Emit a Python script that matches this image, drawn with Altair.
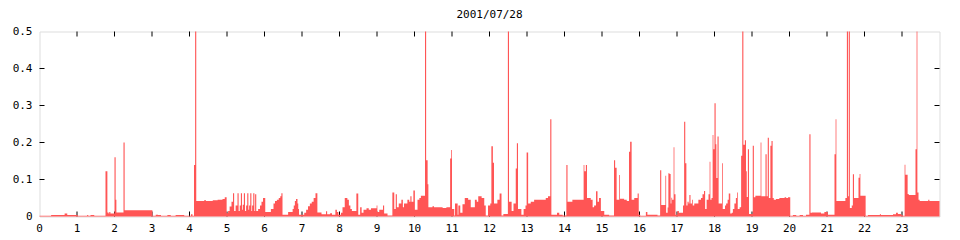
import altair as alt
import pandas as pd

TITLE = "2001/07/28"
RED = "#ff5555"

# step data: start hour of each step and its value (holds until the next start)
hour_start = [
    0.00, 0.31, 0.67, 0.74, 1.02, 1.27, 1.30, 1.36, 1.46, 1.76, 1.81, 1.84, 1.86, 1.89,
    2.00, 2.03, 2.05, 2.24, 2.27, 3.01, 3.10, 3.16, 3.24, 3.41, 3.50, 3.63, 3.86, 4.04,
    4.08, 4.12, 4.15, 4.18, 4.39, 4.44, 4.62, 4.75, 4.88, 4.94, 4.99, 5.03, 5.07, 5.12,
    5.16, 5.19, 5.23, 5.28, 5.31, 5.34, 5.37, 5.40, 5.42, 5.45, 5.48, 5.51, 5.54, 5.57,
    5.59, 5.62, 5.65, 5.67, 5.70, 5.73, 5.75, 5.78, 5.83, 5.88, 5.92, 5.96, 6.02, 6.17,
    6.24, 6.28, 6.33, 6.38, 6.42, 6.45, 6.48, 6.63, 6.75, 6.78, 6.81, 6.84, 6.88, 6.90,
    6.92, 7.06, 7.11, 7.16, 7.21, 7.26, 7.31, 7.36, 7.41, 7.52, 7.64, 7.67, 7.75, 7.80,
    7.89, 7.93, 7.97, 8.04, 8.08, 8.14, 8.21, 8.25, 8.29, 8.33, 8.45, 8.50, 8.55, 8.59,
    8.64, 8.72, 8.78, 8.84, 8.99, 9.01, 9.06, 9.16, 9.19, 9.28, 9.41, 9.46, 9.50, 9.53,
    9.58, 9.65, 9.69, 9.72, 9.81, 9.86, 9.89, 9.92, 9.97, 10.01, 10.08, 10.13, 10.17, 10.28,
    10.31, 10.35, 10.37, 10.48, 10.52, 10.75, 10.85, 10.95, 10.98, 11.00, 11.06, 11.08, 11.15, 11.17,
    11.22, 11.28, 11.34, 11.43, 11.50, 11.61, 11.66, 11.70, 11.79, 11.86, 11.90, 11.96, 12.02, 12.05,
    12.09, 12.12, 12.21, 12.27, 12.32, 12.37, 12.49, 12.52, 12.59, 12.64, 12.70, 12.73, 12.76, 12.85,
    12.91, 12.96, 12.99, 13.03, 13.10, 13.19, 13.50, 13.56, 13.62, 13.65, 13.80, 13.86, 13.95, 14.05,
    14.08, 14.21, 14.51, 14.53, 14.57, 14.60, 14.70, 14.75, 14.79, 14.84, 14.88, 14.92, 14.97, 15.06,
    15.19, 15.32, 15.35, 15.39, 15.46, 15.48, 15.59, 15.66, 15.72, 15.75, 15.79, 15.86, 15.95, 15.98,
    16.02, 16.17, 16.21, 16.48, 16.55, 16.58, 16.69, 16.71, 16.75, 16.77, 16.80, 16.83, 16.85, 16.87,
    16.91, 16.93, 16.96, 17.01, 17.05, 17.16, 17.19, 17.22, 17.25, 17.28, 17.31, 17.33, 17.36, 17.40,
    17.42, 17.46, 17.57, 17.64, 17.68, 17.72, 17.75, 17.79, 17.84, 17.87, 17.89, 17.92, 17.95, 17.97,
    18.00, 18.03, 18.05, 18.08, 18.11, 18.20, 18.22, 18.28, 18.31, 18.35, 18.38, 18.42, 18.46, 18.49,
    18.53, 18.57, 18.60, 18.62, 18.67, 18.71, 18.74, 18.77, 18.81, 18.84, 18.86, 18.89, 18.92, 19.02,
    19.05, 19.09, 19.23, 19.25, 19.36, 19.39, 19.42, 19.45, 19.49, 19.52, 19.55, 19.58, 19.64, 19.73,
    19.87, 19.91, 19.96, 20.02, 20.09, 20.18, 20.27, 20.36, 20.44, 20.53, 20.56, 20.60, 20.84, 20.93,
    21.02, 21.20, 21.23, 21.25, 21.49, 21.53, 21.56, 21.58, 21.61, 21.66, 21.69, 21.72, 21.84, 21.87,
    21.89, 22.03, 22.09, 22.41, 22.44, 22.76, 22.84, 22.89, 22.98, 23.02, 23.07, 23.09, 23.15, 23.18,
    23.36, 23.39, 23.41, 23.44, 23.47, 23.70, 23.73,
]

step_value = [
    0.002, 0.004, 0.008, 0.004, 0.002, 0.004, 0.002, 0.004, 0.002, 0.122, 0.011, 0.008, 0.012, 0.008,
    0.160, 0.045, 0.011, 0.200, 0.017, 0.002, 0.005, 0.004, 0.002, 0.004, 0.002, 0.004, 0.002, 0.006,
    0.002, 0.139, 0.500, 0.042, 0.044, 0.042, 0.044, 0.045, 0.047, 0.052, 0.009, 0.015, 0.027, 0.040,
    0.063, 0.015, 0.030, 0.063, 0.015, 0.030, 0.063, 0.018, 0.032, 0.063, 0.015, 0.030, 0.063, 0.018,
    0.030, 0.063, 0.015, 0.030, 0.063, 0.015, 0.060, 0.015, 0.020, 0.030, 0.040, 0.050, 0.012, 0.020,
    0.035, 0.042, 0.045, 0.050, 0.055, 0.063, 0.005, 0.012, 0.020, 0.030, 0.042, 0.047, 0.035, 0.020,
    0.005, 0.010, 0.018, 0.028, 0.035, 0.040, 0.050, 0.063, 0.011, 0.006, 0.014, 0.006, 0.009, 0.005,
    0.018, 0.012, 0.005, 0.010, 0.025, 0.050, 0.045, 0.030, 0.020, 0.015, 0.062, 0.005, 0.025, 0.010,
    0.018, 0.022, 0.018, 0.022, 0.030, 0.012, 0.018, 0.030, 0.008, 0.003, 0.065, 0.020, 0.060, 0.025,
    0.035, 0.045, 0.025, 0.035, 0.045, 0.040, 0.055, 0.040, 0.070, 0.018, 0.045, 0.050, 0.056, 0.500,
    0.152, 0.087, 0.025, 0.028, 0.025, 0.023, 0.025, 0.157, 0.180, 0.020, 0.003, 0.035, 0.005, 0.030,
    0.010, 0.033, 0.050, 0.045, 0.025, 0.045, 0.040, 0.055, 0.050, 0.030, 0.003, 0.030, 0.035, 0.190,
    0.145, 0.035, 0.045, 0.062, 0.003, 0.007, 0.500, 0.040, 0.015, 0.035, 0.130, 0.198, 0.020, 0.005,
    0.020, 0.030, 0.173, 0.035, 0.040, 0.045, 0.050, 0.055, 0.263, 0.005, 0.010, 0.005, 0.003, 0.139,
    0.040, 0.045, 0.139, 0.122, 0.139, 0.050, 0.045, 0.025, 0.030, 0.068, 0.040, 0.050, 0.015, 0.005,
    0.003, 0.152, 0.132, 0.045, 0.112, 0.048, 0.045, 0.042, 0.175, 0.202, 0.045, 0.050, 0.062, 0.005,
    0.002, 0.012, 0.005, 0.003, 0.125, 0.031, 0.110, 0.010, 0.024, 0.117, 0.115, 0.035, 0.051, 0.045,
    0.187, 0.060, 0.005, 0.015, 0.010, 0.030, 0.256, 0.144, 0.030, 0.040, 0.035, 0.058, 0.035, 0.045,
    0.030, 0.035, 0.045, 0.050, 0.060, 0.069, 0.020, 0.045, 0.060, 0.148, 0.045, 0.050, 0.220, 0.182,
    0.306, 0.195, 0.104, 0.216, 0.035, 0.144, 0.020, 0.030, 0.035, 0.045, 0.062, 0.008, 0.010, 0.020,
    0.035, 0.050, 0.065, 0.020, 0.025, 0.164, 0.500, 0.194, 0.206, 0.122, 0.053, 0.182, 0.007, 0.191,
    0.052, 0.056, 0.200, 0.055, 0.168, 0.055, 0.213, 0.050, 0.191, 0.204, 0.050, 0.045, 0.047, 0.050,
    0.052, 0.050, 0.052, 0.002, 0.004, 0.002, 0.004, 0.002, 0.005, 0.222, 0.010, 0.011, 0.008, 0.012,
    0.005, 0.168, 0.263, 0.042, 0.050, 0.500, 0.055, 0.500, 0.023, 0.030, 0.114, 0.050, 0.105, 0.115,
    0.056, 0.002, 0.004, 0.006, 0.004, 0.006, 0.010, 0.007, 0.004, 0.002, 0.140, 0.113, 0.061, 0.058,
    0.182, 0.500, 0.065, 0.045, 0.042, 0.045, 0.042,
]

x_tick_hours = list(range(0, 24))
inner_x_ticks = list(range(1, 24))
y_tick_values = [0, 0.1, 0.2, 0.3, 0.4, 0.5]
inner_y_ticks = [0.1, 0.2, 0.3, 0.4]

END_HOUR = 24.0
df = pd.DataFrame({
    "hour": hour_start + [END_HOUR],
    "value": step_value + [step_value[-1]],
})

FONT = "DejaVu Sans Mono"
FS = 11
x_scale = alt.Scale(domain=[0, 24], nice=False, zero=False)
y_scale = alt.Scale(domain=[0, 0.5], nice=False)

area = alt.Chart(df).mark_area(interpolate="step-after", color=RED, opacity=1).encode(
    x=alt.X("hour:Q", scale=x_scale, axis=None),
    y=alt.Y("value:Q", scale=y_scale, axis=None),
)

xt = pd.DataFrame({"hour": inner_x_ticks})
yt = pd.DataFrame({"value": inner_y_ticks})
xl = pd.DataFrame({"hour": x_tick_hours, "label": [str(h) for h in x_tick_hours]})
yl = pd.DataFrame({"value": y_tick_values,
                   "label": ["0" if v == 0 else f"{v:.1f}" for v in y_tick_values]})
tl = pd.DataFrame({"label": [TITLE]})

top_ticks = alt.Chart(xt).mark_rule(color="black", strokeWidth=1).encode(
    x=alt.X("hour:Q", scale=x_scale, axis=None), y=alt.value(0), y2=alt.value(5))
bottom_ticks = alt.Chart(xt).mark_rule(color="black", strokeWidth=1).encode(
    x=alt.X("hour:Q", scale=x_scale, axis=None), y=alt.value(180), y2=alt.value(185))
left_ticks = alt.Chart(yt).mark_rule(color="black", strokeWidth=1).encode(
    y=alt.Y("value:Q", scale=y_scale, axis=None), x=alt.value(0), x2=alt.value(5))
right_ticks = alt.Chart(yt).mark_rule(color="black", strokeWidth=1).encode(
    y=alt.Y("value:Q", scale=y_scale, axis=None), x=alt.value(895), x2=alt.value(900))

x_labels = alt.Chart(xl).mark_text(font=FONT, fontSize=FS, color="black",
                                   baseline="middle", align="center").encode(
    x=alt.X("hour:Q", scale=x_scale, axis=None), y=alt.value(197.5), text="label:N")
y_labels = alt.Chart(yl).mark_text(font=FONT, fontSize=FS, color="black",
                                   baseline="middle", align="right").encode(
    y=alt.Y("value:Q", scale=y_scale, axis=None), x=alt.value(-7), text="label:N")
title = alt.Chart(tl).mark_text(font=FONT, fontSize=FS, color="black",
                                baseline="middle", align="center").encode(
    x=alt.value(450), y=alt.value(-16.5), text="label:N")

chart = alt.layer(top_ticks, bottom_ticks, left_ticks, right_ticks, area,
                  x_labels, y_labels, title).properties(
    width=900,
    height=185,
    autosize=alt.AutoSizeParams(type="none"),
    padding={"left": 39.5, "top": 31.5, "right": 20.5, "bottom": 23.5},
).configure_view(stroke="black", strokeWidth=1).configure(background="white")

chart.save("out.html", embed_options={"renderer": "svg", "actions": False})
